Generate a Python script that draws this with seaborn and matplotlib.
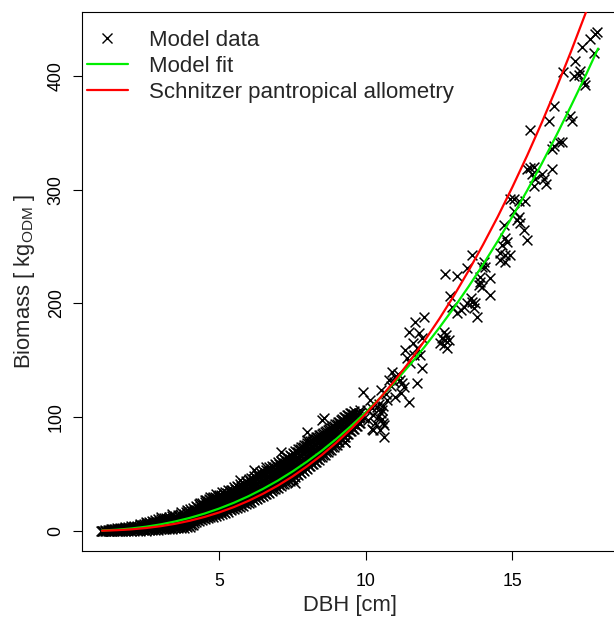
import numpy as np
import pandas as pd
import matplotlib
matplotlib.use("Agg")
import matplotlib.pyplot as plt
import seaborn as sns
from matplotlib.lines import Line2D

# ---------------- data ----------------
# dense band of model data: one DBH column and the biomass values seen in it
band_dbh = [0.95, 1.0, 1.05, 1.1, 1.2, 1.3, 1.4, 1.5, 1.6, 1.7, 1.8, 1.9,
            2.0, 2.1, 2.2, 2.3, 2.4, 2.5, 2.6, 2.7, 2.8, 2.9,
            3.0, 3.1, 3.2, 3.3, 3.4, 3.5, 3.6, 3.7, 3.8, 3.9,
            4.0, 4.1, 4.2, 4.3, 4.4, 4.5, 4.6, 4.7, 4.8, 4.9,
            5.0, 5.1, 5.2, 5.3, 5.4, 5.5, 5.6, 5.7, 5.8, 5.9,
            6.0, 6.1, 6.2, 6.3, 6.4, 6.5, 6.6, 6.7, 6.8, 6.9,
            7.0, 7.1, 7.2, 7.3, 7.4, 7.5, 7.6, 7.7, 7.8, 7.9,
            8.0, 8.1, 8.2, 8.3, 8.4, 8.5, 8.6, 8.7, 8.8, 8.9,
            9.0, 9.1, 9.2, 9.3, 9.4, 9.5, 9.6, 9.7, 9.8]
band_biomass = [
    [0.0], [-0.2, 0.3], [0.1], [-0.3, 0.6], [0.0, 1.0],
    [-0.2, 0.7, 1.5], [0.1, 1.1, 2.0], [-0.1, 1.0, 2.3], [0.2, 1.4, 2.6],
    [0.0, 1.5, 3.0], [0.3, 1.8, 3.3], [0.1, 2.0, 3.8],
    [0.4, 2.2, 4.1], [0.2, 2.3, 4.5], [0.5, 2.6, 4.8], [0.3, 2.7, 5.1, 6.0],
    [0.6, 3.0, 5.4], [0.4, 3.1, 5.8, 8.0], [0.7, 3.4, 6.1, 8.2],
    [0.5, 3.5, 6.4, 8.9], [0.9, 3.8, 6.8, 9.5], [1.0, 4.0, 7.1, 10.2],
    [1.3, 4.3, 7.4, 10.8, 12.0], [1.5, 4.6, 7.8, 11.1], [1.4, 4.8, 8.2, 11.8],
    [1.8, 5.1, 8.6, 12.2], [2.0, 5.4, 9.0, 12.8, 14.8], [2.3, 5.7, 9.3, 13.1],
    [2.5, 6.0, 9.8, 13.7], [2.8, 6.3, 10.1, 14.2, 16.6], [3.0, 6.6, 10.6, 14.8],
    [3.3, 7.0, 11.0, 15.4, 18.0],
    [3.8, 7.4, 11.4, 15.6, 19.0], [5.6, 9.0, 12.6, 16.4, 20.0],
    [7.8, 11.3, 14.9, 18.6, 22.3], [8.6, 12.2, 16.0, 19.8, 23.6],
    [9.4, 13.0, 16.8, 20.6, 24.4], [10.3, 14.0, 17.8, 21.6, 25.4, 27.5],
    [11.1, 14.8, 18.6, 22.4, 26.2], [11.9, 15.6, 19.4, 23.2, 27.0, 30.2],
    [12.7, 16.4, 20.2, 24.0, 27.8, 29.6], [13.5, 17.2, 21.0, 24.8, 28.6, 32.4],
    [14.3, 18.0, 21.9, 25.8, 29.6, 31.6], [15.2, 19.0, 22.8, 26.7, 30.6, 34.0],
    [16.1, 19.9, 23.8, 27.7, 31.6, 34.0], [17.1, 20.9, 24.8, 28.7, 32.6, 36.4],
    [18.0, 21.9, 25.8, 29.7, 33.6, 36.2], [19.0, 22.9, 26.8, 30.7, 34.6, 38.5],
    [20.1, 24.0, 28.0, 32.0, 36.0, 39.2], [21.2, 25.2, 29.2, 33.2, 37.2, 41.2, 44.8],
    [22.3, 26.3, 30.4, 34.5, 38.6, 42.4], [23.4, 27.5, 31.6, 35.7, 39.8, 43.9],
    [24.5, 28.7, 32.9, 37.1, 41.3, 45.5], [25.8, 30.0, 34.2, 38.4, 42.6, 46.8],
    [27.0, 31.3, 35.6, 39.9, 44.2, 48.4, 53.6], [28.3, 32.6, 36.9, 41.2, 45.5, 49.6, 50.7],
    [29.5, 33.9, 38.3, 42.7, 47.1, 51.5], [30.8, 35.2, 39.6, 44.0, 48.4, 52.8],
    [32.2, 36.6, 41.0, 45.4, 49.8, 53.6, 56.5], [33.6, 38.0, 42.5, 47.0, 51.5, 55.9],
    [35.1, 39.6, 44.1, 48.6, 53.1, 57.4], [36.5, 41.0, 45.6, 50.2, 54.8, 58.9],
    [37.9, 42.5, 47.1, 51.7, 56.3, 60.3], [39.5, 44.1, 48.7, 53.3, 57.9, 61.8, 69.7],
    [41.1, 45.8, 50.5, 55.2, 59.9, 63.5], [42.7, 47.4, 52.1, 56.8, 61.5, 65.0],
    [44.3, 49.0, 53.8, 58.6, 63.4, 66.8], [45.9, 50.7, 55.5, 60.3, 65.1, 68.4],
    [41.9, 47.7, 52.5, 57.3, 62.1, 66.9, 70.2], [49.5, 54.3, 59.2, 64.1, 69.0, 72.0],
    [51.3, 56.1, 61.0, 65.9, 70.8, 73.8], [53.1, 58.0, 62.9, 67.8, 72.7, 75.6],
    [54.9, 59.9, 64.9, 69.9, 74.9, 77.6, 80.0, 87.3], [56.9, 61.8, 66.8, 71.8, 76.8, 79.0],
    [58.9, 63.8, 68.8, 73.8, 78.8, 80.6], [60.8, 65.8, 70.8, 75.8, 80.8, 82.2],
    [62.8, 67.8, 72.8, 77.8, 82.8, 84.0], [64.8, 69.8, 74.8, 79.8, 84.8, 97.5],
    [67.0, 71.9, 76.8, 81.7, 86.6], [69.2, 74.0, 78.8, 83.6, 88.4],
    [71.4, 76.2, 81.0, 85.8, 90.6], [73.6, 78.3, 83.0, 87.7, 92.4],
    [75.8, 80.5, 85.2, 89.9, 94.2], [78.2, 82.7, 87.2, 91.7, 96.0],
    [80.6, 85.0, 89.4, 93.8, 98.0], [78.5, 83.0, 87.3, 91.6, 95.9, 100.0],
    [85.4, 89.6, 93.8, 98.0, 102.0], [87.8, 91.9, 96.0, 100.1, 104.0],
    [90.0, 95.0, 100.0, 105.5], [92.0, 97.0, 102.5], [95.0, 100.0, 106.0],
]

# second set of columns lying between the first ones (the band is solid black)
band2_dbh = [1.15, 1.25, 1.35, 1.45, 1.55, 1.65, 1.75, 1.85, 1.95,
             2.05, 2.15, 2.25, 2.35, 2.45, 2.55, 2.65, 2.75, 2.85, 2.95,
             3.05, 3.15, 3.25, 3.35, 3.45, 3.55, 3.65, 3.75, 3.85, 3.95,
             4.05, 4.15, 4.25, 4.35, 4.45, 4.55, 4.65, 4.75, 4.85, 4.95,
             5.05, 5.15, 5.25, 5.35, 5.45, 5.55, 5.65, 5.75, 5.85, 5.95,
             6.05, 6.15, 6.25, 6.35, 6.45, 6.55, 6.65, 6.75, 6.85, 6.95,
             7.05, 7.15, 7.25, 7.35, 7.45, 7.55, 7.65, 7.75, 7.85, 7.95,
             8.05, 8.15, 8.25, 8.35, 8.45, 8.55, 8.65, 8.75, 8.85, 8.95,
             9.05, 9.15, 9.25, 9.35, 9.45, 9.55, 9.65, 9.75]
band2_biomass = [
    [0.2], [0.4, 1.2], [0.3, 1.4], [0.5, 1.6], [0.4, 1.7], [0.7, 2.1],
    [0.6, 2.3], [0.9, 2.6], [1.1, 2.9],
    [1.3, 3.1], [1.2, 3.4], [1.5, 3.7], [1.6, 3.9, 5.6], [1.7, 4.2, 6.5],
    [1.8, 4.5, 6.9], [2.0, 4.8, 7.4], [2.1, 5.0, 7.8], [2.3, 5.3, 8.2],
    [2.6, 5.7, 8.8],
    [2.8, 6.0, 9.2], [3.0, 6.3, 9.6], [3.1, 6.6, 10.1], [3.4, 7.0, 10.6],
    [3.6, 7.3, 11.0], [3.9, 7.6, 11.4], [4.1, 8.0, 11.9], [4.5, 8.4, 12.3],
    [4.8, 8.7, 12.8, 16.8], [5.2, 9.1, 13.2, 17.3],
    [5.4, 9.4, 13.6, 17.6], [7.0, 10.8, 14.6, 18.4], [9.6, 13.4, 17.2, 21.0],
    [10.4, 14.2, 18.0, 21.8, 25.0], [11.2, 15.0, 18.8, 22.6],
    [12.1, 15.9, 19.7, 23.5, 26.8], [13.0, 16.8, 20.6, 24.4, 28.2],
    [13.8, 17.6, 21.4, 25.2, 28.8], [14.6, 18.4, 22.3, 26.2, 30.0],
    [15.4, 19.3, 23.2, 27.1, 31.0],
    [16.3, 20.2, 24.1, 28.0, 31.8], [17.1, 21.0, 25.0, 29.0, 32.8],
    [18.0, 22.0, 26.0, 30.0, 33.8], [19.0, 23.0, 27.0, 31.0, 35.0],
    [19.9, 24.0, 28.0, 32.0, 36.0], [21.0, 25.0, 29.1, 33.2, 37.2],
    [22.0, 26.1, 30.2, 34.3, 38.4], [23.1, 27.2, 31.4, 35.6, 39.8],
    [24.2, 28.4, 32.6, 36.8, 41.0], [25.3, 29.6, 33.9, 38.2, 42.5],
    [26.5, 30.8, 35.1, 39.4, 43.7], [27.7, 32.1, 36.5, 40.9, 45.3],
    [29.0, 33.4, 37.8, 42.2, 46.6], [30.2, 34.7, 39.2, 43.7, 48.2],
    [31.5, 36.0, 40.5, 45.0, 49.5], [32.8, 37.4, 42.0, 46.6, 51.2],
    [34.2, 38.8, 43.4, 48.0, 52.6], [35.6, 40.3, 45.0, 49.7, 54.2],
    [37.0, 41.8, 46.6, 51.4, 56.0], [38.5, 43.3, 48.1, 52.9, 57.6],
    [40.0, 44.8, 49.6, 54.4, 59.2], [41.6, 46.4, 51.2, 56.0, 60.8],
    [43.2, 48.1, 53.0, 57.9, 62.6], [44.8, 49.7, 54.6, 59.5, 64.2],
    [46.4, 51.4, 56.4, 61.4, 66.0], [48.1, 53.1, 58.1, 63.1, 67.8],
    [49.8, 54.9, 60.0, 65.1, 69.8], [51.6, 56.7, 61.8, 66.9, 71.8],
    [53.4, 58.6, 63.8, 69.0, 73.8], [55.2, 60.4, 65.6, 70.8, 75.8],
    [57.1, 62.4, 67.4, 72.4, 77.4], [59.0, 64.3, 69.3, 74.3, 79.2],
    [61.0, 66.3, 71.3, 76.3, 81.0], [62.9, 68.3, 73.3, 78.3, 82.8],
    [64.9, 70.3, 75.3, 80.3, 84.6], [67.0, 72.3, 77.3, 82.3, 86.4],
    [69.1, 74.4, 79.3, 84.2, 88.2], [71.3, 76.4, 81.3, 86.1, 90.0],
    [73.5, 78.6, 83.4, 88.2, 92.0], [75.7, 80.8, 85.5, 90.2, 93.8],
    [78.0, 83.0, 87.6, 92.2, 95.8], [80.4, 85.2, 89.7, 94.2, 97.8],
    [82.8, 87.4, 91.8, 96.2, 99.8], [85.2, 89.7, 94.0, 98.2, 101.8],
    [87.6, 92.0, 96.2, 100.2, 103.8], [90.0, 94.4, 98.6, 102.6],
    [92.5, 97.2, 101.6], [95.0, 99.6, 104.0],
]

# individual model-data crosses in the sparse upper part
sparse_dbh = [17.89, 17.83, 17.66, 17.38, 17.77, 17.15, 17.32, 17.09, 16.73, 17.26,
              17.43, 17.46, 16.41, 16.98, 17.04, 16.24, 15.61, 16.70, 16.58, 16.41,
              16.35, 16.35, 15.73, 15.61, 15.50, 15.67, 16.01, 15.78, 16.07, 16.13,
              15.73, 15.04, 15.21, 15.44, 14.93, 15.04,
              15.22, 15.27, 15.16, 15.39, 15.50, 14.70, 14.76, 14.82, 14.65, 14.59,
              14.76, 14.93, 14.59, 14.76, 13.62, 14.02, 14.08, 13.97, 13.45, 12.71,
              13.11, 13.91, 14.25, 13.91, 13.85, 13.97, 12.88, 14.25, 13.57, 13.62,
              13.45, 13.74, 12.94, 13.34, 13.23, 13.68, 13.11, 13.79, 11.97,
              11.69, 11.46, 11.80, 12.66, 12.71, 12.54, 12.77, 11.35, 11.75, 11.86,
              11.63, 11.92, 11.52, 10.90, 11.01, 10.78, 11.24, 11.75, 10.52, 11.20,
              11.48, 9.91, 10.14, 10.37, 10.54, 9.57, 9.45, 9.68, 10.63, 8.56,
              9.13, 8.84, 9.13, 9.30, 8.68, 10.26, 10.03, 11.01, 11.29, 10.72,
              10.31, 10.08,
              10.45, 10.60, 10.50, 10.70, 10.85, 10.95, 11.10, 11.15, 11.60, 11.90,
              12.60, 12.75, 12.65, 12.85, 11.40, 10.20, 9.80, 9.95, 10.40, 10.55,
              10.49, 10.62, 10.20, 10.26, 10.60]
sparse_biomass = [438.2, 436.7, 432.3, 425.0, 419.8, 413.3, 404.5, 400.1, 403.0, 400.7,
                  394.3, 391.5, 373.7, 365.0, 360.5, 360.0, 352.4, 341.6, 341.6, 338.6,
                  335.7, 318.1, 319.6, 319.0, 318.1, 313.7, 313.7, 309.3, 309.3, 304.9,
                  303.4, 291.7, 290.2, 290.2, 291.7, 281.5,
                  276.2, 270.4, 273.3, 264.5, 255.7, 268.9, 257.2, 254.2, 251.3, 244.0,
                  242.5, 242.5, 238.1, 236.6, 242.5, 236.6, 232.3, 232.3, 230.8, 225.8,
                  224.1, 223.5, 222.1, 219.1, 216.2, 214.7, 206.5, 207.4, 204.5, 201.5,
                  200.1, 200.1, 197.1, 197.1, 194.2, 195.7, 191.3, 188.3, 188.3,
                  183.9, 175.1, 173.7, 175.1, 167.8, 164.9, 160.5, 159.0, 160.5, 154.7,
                  154.7, 143.0, 147.4, 140.0, 135.6, 132.7, 129.8, 129.8, 123.9, 121.0,
                  113.6, 122.4, 115.1, 109.2, 106.3, 101.9, 100.4, 97.5, 93.1, 99.0,
                  93.1, 90.2, 85.9, 78.5, 81.5, 101.9, 106.3, 118.0, 126.8, 115.1,
                  94.6, 97.5,
                  112.0, 110.0, 104.0, 120.0, 127.0, 131.0, 138.0, 133.0, 165.0, 170.0,
                  170.0, 172.0, 163.0, 168.0, 152.0, 108.0, 104.0, 99.0, 100.0, 98.0,
                  88.6, 82.6, 90.0, 88.7, 94.6]

# model fit curve (green) and Schnitzer pantropical allometry (red)
fit_dbh = [1.0, 1.5, 2.0, 2.5, 3.0, 3.5, 4.0, 4.5, 5.0, 5.5, 6.0, 6.5, 7.0, 7.5,
           8.0, 8.5, 9.0, 9.5, 10.0, 10.5, 11.0, 11.5, 12.0, 12.5, 13.0, 13.5,
           14.0, 14.5, 15.0, 15.5, 16.0, 16.5, 17.0, 17.5, 17.92]
fit_biomass = [0.41, 1.09, 2.18, 3.73, 5.78, 8.38, 11.54, 15.32, 19.73, 24.8, 30.58,
               37.1, 44.28, 52.3, 61.05, 70.6, 81.03, 92.3, 104.4, 117.3, 131.2, 146.0,
               161.7, 178.4, 196.0, 214.6, 234.2, 254.8, 276.4, 299.1, 322.8, 347.7,
               373.6, 400.4, 423.9]
schnitzer_dbh = [1.0, 1.5, 2.0, 2.5, 3.0, 3.5, 4.0, 4.5, 5.0, 5.5, 6.0, 6.5, 7.0, 7.5,
                 8.0, 8.5, 9.0, 9.5, 10.0, 10.5, 11.0, 11.5, 12.0, 12.5, 13.0, 13.5,
                 14.0, 14.5, 15.0, 15.5, 16.0, 16.5, 17.0, 17.5, 18.0]
schnitzer_biomass = [0.23, 0.67, 1.43, 2.59, 4.20, 6.33, 9.02, 12.34, 16.32, 21.0, 26.5,
                     32.8, 39.9, 47.9, 56.9, 66.8, 77.8, 89.8, 102.9, 117.2, 132.6, 149.2,
                     167.1, 186.2, 206.6, 228.5, 251.7, 276.2, 302.3, 329.8, 358.8, 389.3,
                     421.5, 455.3, 490.6]

x_ticks = [5, 10, 15]
y_ticks = [0, 100, 200, 300, 400]
legend_labels = ["Model data", "Model fit", "Schnitzer pantropical allometry"]
x_label = "DBH [cm]"
y_label = "Biomass [ kg$_{\\mathrm{ODM}}$ ]"

# ---------------- tables ----------------
pts_x, pts_y = [], []
for cols_d, cols_b in ((band_dbh, band_biomass), (band2_dbh, band2_biomass)):
    for d, col in zip(cols_d, cols_b):
        for b in col:
            pts_x.append(d)
            pts_y.append(b)
pts_x += sparse_dbh
pts_y += sparse_biomass
points = pd.DataFrame({"dbh": pts_x, "biomass": pts_y})
fit = pd.DataFrame({"dbh": fit_dbh, "biomass": fit_biomass})
schn = pd.DataFrame({"dbh": schnitzer_dbh, "biomass": schnitzer_biomass})

# ---------------- style ----------------
sns.set_style("white")
plt.rcParams["font.family"] = ["Liberation Sans", "DejaVu Sans"]
plt.rcParams["mathtext.fontset"] = "custom"
plt.rcParams["mathtext.rm"] = "Liberation Sans"
plt.rcParams["mathtext.it"] = "Liberation Sans:italic"
plt.rcParams["mathtext.bf"] = "Liberation Sans:bold"

fig = plt.figure(figsize=(6.14, 6.18), dpi=100)
ax = fig.add_axes([0.1336, 0.1084, 0.8729, 0.8714])

sns.scatterplot(data=points, x="dbh", y="biomass", marker="x", color="black",
                s=50, linewidth=1.1, ax=ax, legend=False, zorder=2)
sns.lineplot(data=fit, x="dbh", y="biomass", color="#00ee00", linewidth=1.6,
             ax=ax, estimator=None, sort=False, legend=False, zorder=3)
sns.lineplot(data=schn, x="dbh", y="biomass", color="#ff0000", linewidth=1.6,
             ax=ax, estimator=None, sort=False, legend=False, zorder=4)

ax.set_xlim(0.32, 18.6)
ax.set_ylim(-17.6, 455.6)
ax.set_xticks(x_ticks)
ax.set_yticks(y_ticks)
ax.set_xticklabels([str(v) for v in x_ticks])
ax.set_yticklabels([str(v) for v in y_ticks], rotation=90, va="center")

for sp in ax.spines.values():
    sp.set_visible(True)
    sp.set_color("black")
    sp.set_linewidth(0.8)

ax.tick_params(axis="both", direction="out", length=6.5, width=0.8,
               color="black", labelsize=12.8, labelcolor="black",
               bottom=True, left=True, top=False, right=False)
ax.tick_params(axis="x", pad=9)
ax.tick_params(axis="y", pad=6)
ax.set_xlabel(x_label, fontsize=15.8, labelpad=4)
ax.set_ylabel(y_label, fontsize=15.8, labelpad=8)

handles = [
    Line2D([], [], marker="x", linestyle="none", color="black", markersize=7.5,
           markeredgewidth=1.0),
    Line2D([], [], color="#00ee00", linewidth=1.6),
    Line2D([], [], color="#ff0000", linewidth=1.6),
]
ax.legend(handles, legend_labels, loc="upper left", bbox_to_anchor=(0.0, 0.977),
          frameon=False, fontsize=16, handlelength=1.85, handletextpad=0.95,
          labelspacing=0.23, borderaxespad=0.0, borderpad=0.22)

fig.savefig("out.png", dpi=100)
